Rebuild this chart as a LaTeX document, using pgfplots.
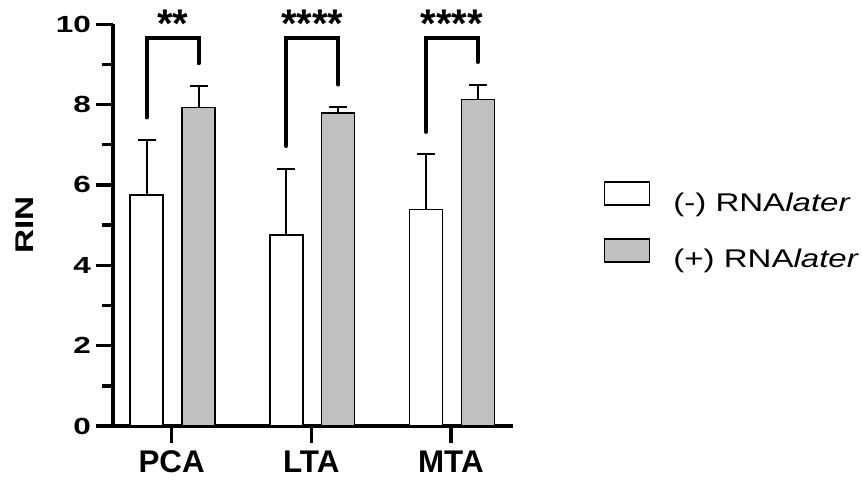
\documentclass[border=0pt]{standalone}
\usepackage{pgfplots}
\pgfplotsset{compat=1.18}
\usepackage{fontspec}
\setmainfont{Liberation Sans}
\definecolor{barGrey}{RGB}{192,192,192}
\begin{document}
\begin{tikzpicture}
\path[use as bounding box] (-84.75pt,-45.75pt) rectangle (561.75pt,319.5pt);
\begin{axis}[
  scale only axis,
  width=299.8pt, height=301.3pt,
  xmin=-0.42, xmax=2.443, ymin=0, ymax=10,
  axis lines*=left,
  axis line style={line width=2.5pt, black},
  clip=false,
  xtick={0,1,2}, xticklabels={PCA,LTA,MTA},
  ytick={0,2,4,6,8,10}, minor ytick={1,3,5,7,9},
  tick align=outside,
  major tick length=13pt, minor tick length=8pt,
  tick style={line width=2.5pt, black},
  /pgf/number format/assume math mode=true,
  yticklabel={\scalebox{1.35}[1]{\pgfmathprintnumber{\tick}}},
  yticklabel style={font=\bfseries\fontsize{17.5}{18}\selectfont},
  xticklabel style={font=\bfseries\fontsize{23.5}{24}\selectfont, yshift=-2pt},
  ylabel={\scalebox{1.3}[1]{RIN}},
  ylabel style={font=\bfseries\fontsize{19.2}{20}\selectfont, at={(axis description cs:-0.221,0.5)}, anchor=center},
  legend style={draw=none, fill=none, at={(rel axis cs:1.2265,0.499)}, anchor=west,
    inner sep=0pt, row sep=18.75pt, nodes={inner sep=0pt},
    font=\fontsize{19.2}{20}\selectfont},
  legend cell align=left,
  legend image code/.code={\draw[#1] (0pt,-1.8pt) rectangle (33.75pt,15.45pt); \path (51.3pt,0pt);},
]
\addplot[ybar, bar width=0.2363, bar shift=-0.179, fill=white, draw=black, line width=1.1pt]
  coordinates {(0,5.75) (1,4.76) (2,5.39)};
\addlegendentry{\scalebox{1.29}[1]{(-) RNA\textit{later}}}
\addplot[ybar, bar width=0.2363, bar shift=0.193, fill=barGrey, draw=black, line width=1.1pt]
  coordinates {(0,7.93) (1,7.79) (2,8.13)};
\addlegendentry{\scalebox{1.29}[1]{(+) RNA\textit{later}}}
% error bars (upper only)
\addplot[draw=none, mark=none, forget plot,
  error bars/.cd, y dir=plus, y explicit, error mark=|,
  error bar style={draw=black, line width=1.5pt},
  error mark options={draw=black, mark size=6.75pt, line width=1.5pt}]
  coordinates {(-0.179,5.75) +- (0,1.37) (0.821,4.76) +- (0,1.63) (1.821,5.39) +- (0,1.37)};
\addplot[draw=none, mark=none, forget plot,
  error bars/.cd, y dir=plus, y explicit, error mark=|,
  error bar style={draw=black, line width=1.5pt},
  error mark options={draw=black, mark size=6.75pt, line width=1.5pt}]
  coordinates {(0.193,7.93) +- (0,0.53) (1.193,7.79) +- (0,0.14) (2.193,8.13) +- (0,0.36)};
% significance brackets
\addplot[black, line width=3pt, line cap=round, mark=none, forget plot]
  coordinates {(-0.179,7.68) (-0.179,9.67) (0.193,9.67) (0.193,9.03)};
\addplot[black, line width=3pt, line cap=round, mark=none, forget plot]
  coordinates {(0.821,6.97) (0.821,9.67) (1.193,9.67) (1.193,8.5)};
\addplot[black, line width=3pt, line cap=round, mark=none, forget plot]
  coordinates {(1.821,7.32) (1.821,9.67) (2.193,9.67) (2.193,9.06)};
\node[font=\bfseries\fontsize{30}{30}\selectfont, anchor=north, inner sep=0pt] at (axis cs:0.007,10.35) {**};
\node[font=\bfseries\fontsize{30}{30}\selectfont, anchor=north, inner sep=0pt] at (axis cs:1.007,10.35) {****};
\node[font=\bfseries\fontsize{30}{30}\selectfont, anchor=north, inner sep=0pt] at (axis cs:2.007,10.35) {****};
\end{axis}
\end{tikzpicture}
\end{document}
